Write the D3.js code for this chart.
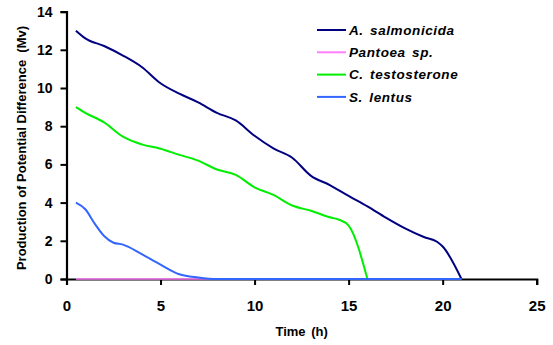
<!DOCTYPE html>
<html>
<head>
<meta charset="utf-8">
<script src="https://cdnjs.cloudflare.com/ajax/libs/d3/7.8.5/d3.min.js"></script>
<style>
  body { margin: 0; background: #fff; }
  text { font-family: "Liberation Sans", Arial, sans-serif; font-weight: bold; fill: #000; }
</style>
</head>
<body>
<div id="svg-container"></div>
<script>
// series names + colours
const seriesNames = ["A. salmonicida", "Pantoea sp.", "C. testosterone", "S. lentus"];
const seriesColors = ["#000080", "#ff80ff", "#00ee00", "#3366ff"];

// time (h) / value (Mv) pairs
const salmonicidaTime = [0.5, 1, 2, 3, 4, 5, 6, 7, 8, 9, 10, 11, 12, 13, 14, 15, 16, 17, 18, 19, 19.7, 20, 21];
const salmonicidaVal  = [13.0, 12.6, 12.2, 11.7, 11.1, 10.25, 9.7, 9.25, 8.7, 8.3, 7.5, 6.84, 6.35, 5.4, 4.92, 4.35, 3.8, 3.2, 2.65, 2.2, 1.95, 1.7, 0];

const pantoeaTime = [0.5, 5, 10, 15, 21];
const pantoeaVal  = [0, 0, 0, 0, 0];

const testosteroneTime = [0.5, 1, 2, 3, 4, 5, 6, 7, 8, 9, 10, 11, 12, 13, 14, 14.5, 15, 16];
const testosteroneVal  = [9.0, 8.7, 8.2, 7.45, 7.05, 6.82, 6.5, 6.2, 5.73, 5.45, 4.8, 4.4, 3.85, 3.57, 3.23, 3.1, 2.8, 0];

const lentusTime = [0.5, 1, 1.5, 2, 2.5, 3, 4, 5, 6, 7, 8, 10, 15, 21];
const lentusVal  = [4.0, 3.65, 2.9, 2.25, 1.9, 1.8, 1.3, 0.75, 0.25, 0.08, 0, 0, 0, 0];

const xTicks = [0, 5, 10, 15, 20, 25];
const yTicks = [0, 2, 4, 6, 8, 10, 12, 14];

const W = 553, H = 345;
const margin = {top: 11.6, left: 66.5, right: 16.3, bottom: 66};

var svg = d3.select("#svg-container")
    .append("svg")
    .attr("width", W)
    .attr("height", H);

var x = d3.scaleLinear().domain([0, 25]).range([margin.left, W - margin.right]);
var y = d3.scaleLinear().domain([0, 14]).range([H - margin.bottom, margin.top]);

var series = [
    {name: seriesNames[0], color: seriesColors[0], t: salmonicidaTime, v: salmonicidaVal},
    {name: seriesNames[1], color: seriesColors[1], t: pantoeaTime, v: pantoeaVal},
    {name: seriesNames[2], color: seriesColors[2], t: testosteroneTime, v: testosteroneVal},
    {name: seriesNames[3], color: seriesColors[3], t: lentusTime, v: lentusVal}
];

// axes
var xAxis = svg.append("g")
    .attr("transform", "translate(0," + y(0) + ")")
    .call(d3.axisBottom(x).tickValues(xTicks).tickSize(6).tickPadding(15));
var yAxis = svg.append("g")
    .attr("transform", "translate(" + x(0) + ",0)")
    .call(d3.axisLeft(y).tickValues(yTicks).tickSize(6).tickPadding(8));

[xAxis, yAxis].forEach(function(g){
    g.select(".domain").attr("stroke", "#000").attr("stroke-width", 2.2);
    g.selectAll(".tick line").attr("stroke", "#000").attr("stroke-width", 2);
    g.selectAll(".tick text").style("font-weight", "bold").style("font-family", "'Liberation Sans', Arial, sans-serif");
});
xAxis.selectAll(".tick text").style("font-size", "15px");
yAxis.selectAll(".tick text").style("font-size", "14px");

// lines
var line = d3.line()
    .x(function(d){ return x(d[0]); })
    .y(function(d){ return y(d[1]); })
    .curve(d3.curveMonotoneX);

svg.selectAll(".series")
    .data(series)
    .enter()
    .append("path")
    .attr("class", "series")
    .attr("fill", "none")
    .attr("stroke", function(d){ return d.color; })
    .attr("stroke-width", 2)
    .attr("stroke-opacity", function(d, i){ return i === 1 ? 0.75 : 1; })
    .attr("d", function(d){ return line(d.t.map(function(t, i){ return [t, d.v[i]]; })); });

// legend
var legend = svg.append("g").attr("transform", "translate(317,30)");
var item = legend.selectAll(".item")
    .data(series)
    .enter()
    .append("g")
    .attr("transform", function(d, i){ return "translate(0," + (i * 22.3) + ")"; });
item.append("line")
    .attr("x1", 0).attr("x2", 29)
    .attr("stroke", function(d){ return d.color; })
    .attr("stroke-width", 2);
item.append("text")
    .attr("x", 32)
    .attr("dy", "0.36em")
    .style("font-size", "13.5px")
    .style("font-style", "italic")
    .style("letter-spacing", "0.6px")
    .style("word-spacing", "2px")
    .text(function(d){ return d.name; });

// axis titles
svg.append("text")
    .attr("x", (x(0) + x(25)) / 2)
    .attr("y", 336)
    .attr("text-anchor", "middle")
    .style("font-size", "13px")
    .style("word-spacing", "2px")
    .text("Time (h)");

svg.append("text")
    .attr("transform", "translate(26," + 148 + ") rotate(-90)")
    .attr("text-anchor", "middle")
    .style("font-size", "13px")
    .attr("xml:space", "preserve")
    .text("Production of Potential Difference  (Mv)");
</script>
</body>
</html>
